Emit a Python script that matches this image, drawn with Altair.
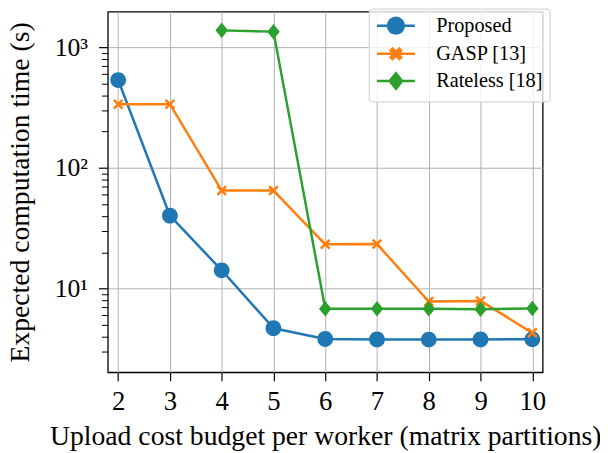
import altair as alt
import pandas as pd

# ---- data ----
series_names = ["Proposed", "GASP [13]", "Rateless [18]"]
series_colors = ["#1f77b4", "#ff7f0e", "#2ca02c"]

budget = [2, 3, 4, 5, 6, 7, 8, 9, 10]
proposed_time = [534, 40.2, 14.2, 4.71, 3.83, 3.80, 3.79, 3.80, 3.81]
gasp_time = [337, 337, 64.9, 64.9, 23.3, 23.4, 7.83, 7.92, 4.31]
rateless_budget = [4, 5, 6, 7, 8, 9, 10]
rateless_time = [1377, 1344, 6.81, 6.82, 6.82, 6.77, 6.86]

x_ticks = [2, 3, 4, 5, 6, 7, 8, 9, 10]
y_major = [10, 100, 1000]
y_minor = [3, 4, 5, 6, 7, 8, 9, 20, 30, 40, 50, 60, 70, 80, 90,
           200, 300, 400, 500, 600, 700, 800, 900]

# ---- marker paths (a zero-area line piece shows only in the legend stroke) ----
circle_path = "M-2.4,0L2.4,0M1,0A1,1,0,1,1,-1,0A1,1,0,1,1,1,0Z"
cross_path = ("M-2.4,0L2.4,0"
              "M0,-0.226L0.437,-0.663L0.663,-0.437L0.226,0L0.663,0.437L0.437,0.663"
              "L0,0.226L-0.437,0.663L-0.663,0.437L-0.226,0L-0.663,-0.437L-0.437,-0.663Z")
diamond_path = "M-2.4,0L2.4,0M0,-0.98L0.79,0L0,0.98L-0.79,0Z"
shape_paths = [circle_path, cross_path, diamond_path]

rows = []
for b, t in zip(budget, proposed_time):
    rows.append({"budget": b, "time": t, "series": series_names[0]})
for b, t in zip(budget, gasp_time):
    rows.append({"budget": b, "time": t, "series": series_names[1]})
for b, t in zip(rateless_budget, rateless_time):
    rows.append({"budget": b, "time": t, "series": series_names[2]})
df = pd.DataFrame(rows)

FONT = "Liberation Serif"
LEGEND_FONT = "'Liberation Serif', 'Times New Roman', serif"

x_scale = alt.Scale(domain=[1.8, 10.2], nice=False, zero=False)
y_scale = alt.Scale(type="log", domain=[2.03, 1970], nice=False)
color_scale = alt.Scale(domain=series_names, range=series_colors)
shape_scale = alt.Scale(domain=series_names, range=shape_paths)

x_axis = alt.Axis(
    values=x_ticks, grid=True, domain=False, tickSize=8.5, tickWidth=1.2,
    labelPadding=8, labelFontSize=27, labelFlush=False, labelOverlap=False,
    format="d",
    title="Upload cost budget per worker (matrix partitions)",
    titleFontSize=28, titleX=220, titleY=72.7, titleBaseline="alphabetic",
)
y_axis = alt.Axis(
    values=y_major, grid=True, domain=False, tickSize=9.5, tickWidth=1.2,
    labelPadding=11, labelFontSize=26, labelFlush=False, labelOverlap=False,
    labelExpr="datum.value == 10 ? '10¹' : datum.value == 100 ? '10²' : '10³'",
    title="Expected computation time (s)",
    titleFontSize=28, titleX=-80, titleY=182.5, titleBaseline="alphabetic",
)
minor_axis = alt.Axis(
    values=y_minor, orient="left", grid=False, labels=False, domain=False,
    tickSize=6.5, tickWidth=1.0, title=None,
)

legend = alt.Legend(
    title=None, orient="none", legendX=264, legendY=-3, padding=7,
    symbolOffset=10.25, labelOffset=30.5, rowPadding=3.5, symbolSize=256,
    symbolStrokeWidth=2.5,
    labelFont=LEGEND_FONT, labelFontSize=20.5, labelColor="black", labelLimit=400,
    labelFontStyle="normal", labelFontWeight="normal",
    strokeColor="#cccccc", fillColor="rgba(255,255,255,0.8)", cornerRadius=3,
)

x_enc = alt.X("budget:Q", scale=x_scale, axis=x_axis)

lines = alt.Chart(df).mark_line(strokeWidth=2.5, strokeJoin="round").encode(
    x=x_enc,
    y=alt.Y("time:Q", scale=y_scale, axis=y_axis),
    stroke=alt.Stroke("series:N", scale=color_scale, legend=legend),
)

points = alt.Chart(df).mark_point(filled=True, size=256, opacity=1).encode(
    x=x_enc,
    y=alt.Y("time:Q", scale=y_scale, axis=None),
    fill=alt.Fill("series:N", scale=color_scale, legend=legend),
    stroke=alt.Stroke("series:N", scale=color_scale, legend=legend),
    shape=alt.Shape("series:N", scale=shape_scale, legend=legend),
    strokeWidth=alt.value(0),
)

minor = alt.Chart(df).mark_point(opacity=0).encode(
    x=x_enc,
    y=alt.Y("time:Q", scale=y_scale, axis=minor_axis),
)

chart = (
    alt.layer(lines, points, minor)
    .resolve_axis(y="independent")
    .properties(
        width=440, height=365,
        autosize=alt.AutoSizeParams(type="none"),
        padding={"left": 101, "top": 1, "right": 58, "bottom": 78},
    )
    .configure(font=FONT)
    .configure_view(stroke="black", strokeWidth=1.3)
    .configure_axis(
        labelFont=FONT, titleFont=FONT, labelColor="black", titleColor="black",
        titleFontWeight="normal", tickColor="black", gridColor="#b0b0b0", gridWidth=1,
    )
    .configure_legend(
        labelFont=LEGEND_FONT, labelFontSize=20.5, labelColor="black",
        symbolStrokeWidth=2.5, symbolSize=256,
    )
)

chart.save("out.html", embed_options={"renderer": "svg", "actions": False})
